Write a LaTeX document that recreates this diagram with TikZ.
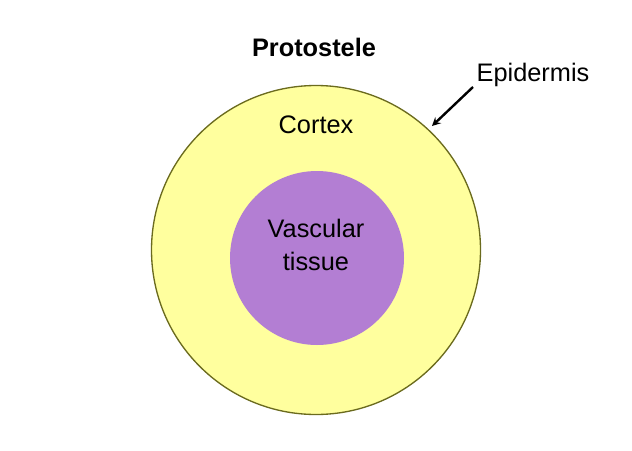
\documentclass[tikz,border=0pt]{standalone}
\usepackage{fontspec}
\setmainfont{Liberation Sans}
\usepackage{tikz}
\definecolor{cortexyellow}{HTML}{FFFF9E}
\definecolor{rimolive}{HTML}{6B6B1E}
\definecolor{vascpurple}{HTML}{B37ED3}
\tikzset{
  lbl/.style={inner sep=0.75pt, align=center, font=\fontsize{19}{25}\selectfont}
}
\begin{document}
\begin{tikzpicture}[x=0.75pt,y=0.75pt,yscale=-1,xscale=1]
\useasboundingbox (0,0) rectangle (632,450);

\draw [rimolive, fill=cortexyellow, line width=1pt] (316,250) circle (164.5);
\fill [vascpurple] (317,258) circle (87);

\node [lbl, font=\bfseries\fontsize{19}{23}\selectfont] (title) at (314,47) {Protostele};
\node [lbl] (cortex) at (316,125) {Cortex};
\node [lbl] (vasc) at (316,245) {Vascular\\tissue};
\node [lbl] (epi) at (533,75) {Epidermis};
\coordinate (tail) at (473,87);
\coordinate (rim) at (432,126);

\draw [-stealth, line width=1.8pt] (tail) -- (rim);

\end{tikzpicture}
\end{document}
